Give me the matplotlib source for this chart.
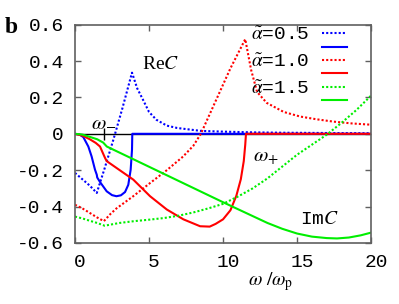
import matplotlib
matplotlib.use("Agg")
import matplotlib.pyplot as plt
import matplotlib.transforms as mtransforms

plt.rcParams['mathtext.fontset'] = 'stix'
plt.rcParams['axes.unicode_minus'] = False

# Re C and Im C for three alpha values
re05_x = [0, 0.5, 1.0, 1.47, 2.0, 2.6, 3.2, 3.85, 4.2, 4.6, 5.0, 5.5, 6.2, 6.9, 8.5, 10, 12, 14, 16, 18, 20]
re05_y = [-0.215, -0.25, -0.285, -0.325, -0.19, -0.03, 0.14, 0.336, 0.25, 0.186, 0.12, 0.077, 0.045, 0.032, 0.016, 0.012, 0.008, 0.006, 0.005, 0.004, 0.003]
im05_x = [0, 0.3, 0.56, 0.9, 1.12, 1.35, 1.47, 1.5, 1.69, 2.14, 2.5, 2.8, 3.1, 3.38, 3.6, 3.76, 3.85, 3.87, 20]
im05_y = [0, -0.004, -0.018, -0.07, -0.124, -0.197, -0.225, -0.24, -0.265, -0.316, -0.337, -0.343, -0.338, -0.32, -0.28, -0.197, -0.088, 0, 0]

re10_x = [0, 0.5, 1.0, 1.5, 1.95, 2.4, 2.8, 3.9, 5.0, 6.2, 7.3, 8.0, 8.5, 9.5, 10.5, 11.5, 11.9, 12.3, 12.95, 14.1, 15.2, 16.3, 17.45, 18.7, 20]
re10_y = [-0.39, -0.41, -0.435, -0.46, -0.48, -0.44, -0.41, -0.345, -0.275, -0.2, -0.125, -0.065, 0, 0.18, 0.36, 0.52, 0.35, 0.23, 0.17, 0.12, 0.095, 0.08, 0.067, 0.057, 0.05]
im10_x = [0, 0.5, 1.0, 1.4, 1.69, 1.85, 2.03, 2.14, 3.94, 5.07, 6.2, 7.32, 8.45, 9.1, 9.5, 10.0, 10.5, 10.9, 11.2, 11.4, 11.5, 11.55, 20]
im10_y = [0, -0.01, -0.03, -0.05, -0.07, -0.1, -0.133, -0.15, -0.252, -0.343, -0.416, -0.47, -0.508, -0.51, -0.495, -0.47, -0.42, -0.34, -0.25, -0.15, -0.06, 0, 0]

re15_x = [0, 0.5, 1.0, 1.5, 2.0, 3, 4, 5, 6, 7, 8, 9, 10, 11, 12, 13, 14, 15, 16, 17, 18, 19, 20]
re15_y = [-0.455, -0.465, -0.478, -0.49, -0.505, -0.49, -0.48, -0.472, -0.463, -0.45, -0.432, -0.41, -0.385, -0.345, -0.3, -0.245, -0.18, -0.115, -0.06, -0.005, 0.06, 0.13, 0.21]
im15_x = [0, 0.5, 1.0, 1.5, 1.9, 2.15, 4, 6, 8, 10, 12, 13, 14, 15, 16, 17, 17.7, 18.5, 19.3, 20]
im15_y = [0, -0.004, -0.017, -0.03, -0.048, -0.07, -0.142, -0.22, -0.298, -0.376, -0.452, -0.49, -0.522, -0.548, -0.565, -0.573, -0.575, -0.57, -0.558, -0.543]

alphas = ['0.5', '1.0', '1.5']
colors = ['#0000ff', '#ff0000', '#00ee00']
w_minus = 1.95

fig = plt.figure(figsize=(3.99, 3.04), dpi=100)
ax = fig.add_axes([0.188, 0.2007, 0.742, 0.7183])

ax.axhline(0, color='black', lw=1.0, zorder=1)
ax.plot([w_minus], [0], marker='|', color='black', markersize=8, mew=1.0, zorder=1)

series = [(re05_x, re05_y, im05_x, im05_y),
          (re10_x, re10_y, im10_x, im10_y),
          (re15_x, re15_y, im15_x, im15_y)]
for (rx, ry, ix, iy), a, c in zip(series, alphas, colors):
    lab = r'$\tilde{\alpha}$=' + a
    ax.plot(rx, ry, color=c, lw=1.5, ls=(0, (1, 1)), label=lab)
    ax.plot(ix, iy, color=c, lw=1.5, label=lab)

ax.set_xlim(0, 20)
ax.set_ylim(-0.6, 0.6)
ax.set_xticks([0, 5, 10, 15, 20])
ax.set_yticks([-0.6, -0.4, -0.2, 0, 0.2, 0.4, 0.6])
ax.set_yticklabels(['-0.6', '-0.4', '-0.2', '0', '0.2', '0.4', '0.6'])
ax.tick_params(direction='in', length=4, width=1, color='#606060', top=True, right=True,
               labelsize=14)
ax.tick_params(axis='x', pad=8)
ax.tick_params(axis='y', pad=8)
for lab in ax.get_xticklabels() + ax.get_yticklabels():
    lab.set_family('Liberation Mono')
offset = mtransforms.ScaledTranslation(5 / 100, 0, fig.dpi_scale_trans)
for lab in ax.get_xticklabels():
    lab.set_transform(lab.get_transform() + offset)
for sp in ax.spines.values():
    sp.set_color('#606060')
    sp.set_linewidth(1.2)

ax.set_xlabel(r'$\omega\ /\omega_{\rm p}$', fontsize=14)
ax.xaxis.set_label_coords(0.66, -0.125)

ax.text(4.5, 0.356, r'Re$C$', fontsize=14, family='Liberation Serif')
ax.text(15.2, -0.493, r'Im$C$', fontsize=14, family='Liberation Mono')
ax.text(1.1, 0.04, r'$\omega_{-}$', fontsize=15)
ax.text(12.0, -0.153, r'$\omega_{+}$', fontsize=15)
fig.text(0.012, 0.893, 'b', fontsize=17, fontweight='bold', family='Liberation Serif')

leg = ax.legend(loc='upper right', bbox_to_anchor=((347 - 75) / 296, 1 - 2 / 219),
                markerfirst=False, frameon=False,
                handlelength=1.3, handletextpad=0.62, labelspacing=-0.22,
                borderpad=0, borderaxespad=0,
                prop={'family': 'Liberation Mono', 'size': 14})
for i, t in enumerate(leg.get_texts()):
    if i % 2 == 1:
        t.set_visible(False)

fig.savefig('out.png', dpi=100)
